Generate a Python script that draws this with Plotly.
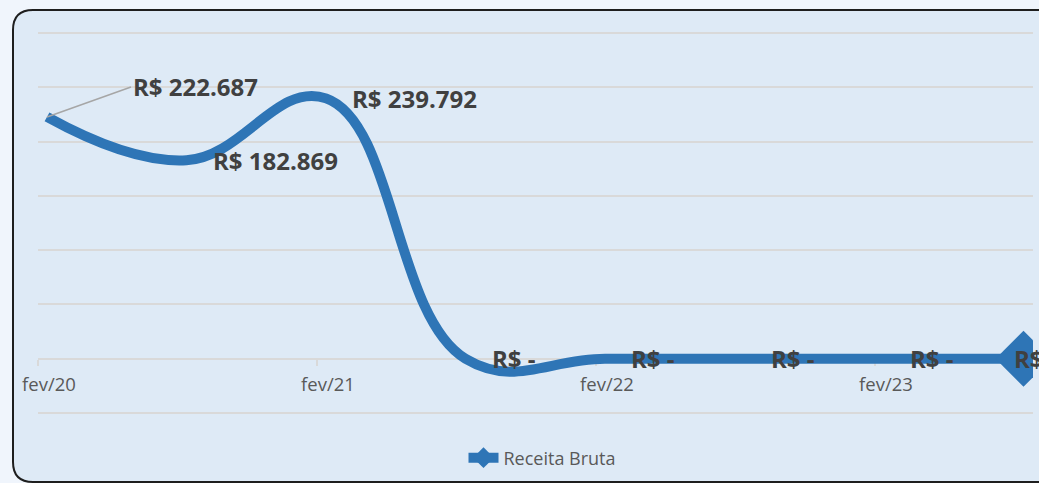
import plotly.graph_objects as go

# ---- data ----
periods = ["fev/20", "ago/20", "fev/21", "ago/21", "fev/22", "ago/22", "fev/23", "ago/23"]
receita = [222687, 182869, 239792, 0, 0, 0, 0, 0]
tick_labels = ["fev/20", "fev/21", "fev/22", "fev/23"]
series_name = "Receita Bruta"

W, H = 1039, 483
BLUE = "#2E75B6"
GRID = "#D9D9D9"
LABEL = "#404040"
AXTXT = "#595959"
FONT = "Open Sans"

xs = list(range(len(periods)))


def fmt(v):
    if v == 0:
        return "R$ -"
    return "R$ " + f"{v:,.0f}".replace(",", ".")


fig = go.Figure()

# main smoothed line
fig.add_trace(go.Scatter(
    x=xs, y=receita, mode="lines",
    line=dict(color=BLUE, width=10, shape="spline", smoothing=1.2),
    showlegend=False, hoverinfo="skip",
))
# last point diamond marker (also carries legend entry)
fig.add_trace(go.Scatter(
    x=[xs[-1]], y=[receita[-1]], mode="lines+markers", name=series_name,
    line=dict(color=BLUE, width=10),
    marker=dict(symbol="diamond", size=43, color=BLUE),
    cliponaxis=True, hoverinfo="skip",
))

# data labels
ann = []
for i, (x, v) in enumerate(zip(xs, receita)):
    if i == 0:
        ann.append(dict(x=x, y=v, xref="x", yref="y", text=fmt(v), showarrow=True,
                        ax=84, ay=-30, xanchor="left", yanchor="middle",
                        arrowhead=0, arrowwidth=1.5, arrowcolor="#A6A6A6",
                        font=dict(family=FONT, size=24, color=LABEL, weight="bold")))
    else:
        shift = -12 if i == len(xs) - 1 else 24
        ann.append(dict(x=x, y=v, xref="x", yref="y", text=fmt(v), showarrow=False,
                        xanchor="left", yanchor="middle", xshift=shift,
                        font=dict(family=FONT, size=24, color=LABEL, weight="bold")))

# card background
x0, y0, x1, y1, r = 13, 10, 1070, 482, 20
def px(x):
    return x / W
def py(y):
    return 1 - y / H
path = (f"M {px(x0 + r)},{py(y0)} L {px(x1)},{py(y0)} L {px(x1)},{py(y1)} "
        f"L {px(x0 + r)},{py(y1)} Q {px(x0)},{py(y1)} {px(x0)},{py(y1 - r)} "
        f"L {px(x0)},{py(y0 + r)} Q {px(x0)},{py(y0)} {px(x0 + r)},{py(y0)} Z")
shapes = [dict(type="path", path=path, xref="paper", yref="paper", layer="below",
               fillcolor="#DEEAF6", line=dict(color="#1E1E1E", width=2))]

step = 139.5
left_px, right_px = 38, 1033
pt0_px = 47
xmin = (left_px - pt0_px) / step
xmax = (right_px - pt0_px) / step
tickvals = [xmin + 2 * k for k in range(len(tick_labels))]

# y scale: -50000 at y=413 px, 300000 at y=33 px, padded so edge gridlines are drawn
ymin, ymax, pad = -50000, 300000, 2500
top_px, bot_px = 33, 413
ppu = (bot_px - top_px) / (ymax - ymin)
pad_px = pad * ppu

fig.update_layout(
    width=W, height=H,
    margin=dict(l=0, r=0, t=0, b=0, autoexpand=False),
    paper_bgcolor="#F0F5FC", plot_bgcolor="rgba(0,0,0,0)",
    shapes=shapes, annotations=ann,
    font=dict(family=FONT, color=AXTXT),
    xaxis=dict(domain=[left_px / W, right_px / W], range=[xmin, xmax],
               anchor="free", position=1 - 359 / H, automargin=False,
               tickmode="array", tickvals=tickvals, ticktext=tick_labels,
               ticks="outside", ticklen=6, tickcolor=GRID, tickwidth=1.5,
               ticklabelshift=11, ticklabelstandoff=3,
               showline=True, linecolor=GRID, linewidth=1.5, layer="below traces",
               showgrid=False, zeroline=False, fixedrange=True,
               tickfont=dict(family=FONT, size=18.5, color=AXTXT)),
    yaxis=dict(domain=[1 - (bot_px + pad_px) / H, 1 - (top_px - pad_px) / H],
               range=[ymin - pad, ymax + pad],
               dtick=50000, tick0=0, showticklabels=False, showgrid=True,
               automargin=False, fixedrange=True,
               gridcolor=GRID, gridwidth=1.5, zeroline=False, showline=False),
    legend=dict(orientation="h", x=0.5 + 23 / W, xanchor="center", y=1 - 458 / H, yanchor="middle",
                bgcolor="rgba(0,0,0,0)", font=dict(family=FONT, size=18, color=AXTXT)),
    showlegend=True,
)

fig.write_html("out.html", config={"displayModeBar": False},
               post_script="document.body.style.margin='0';")
